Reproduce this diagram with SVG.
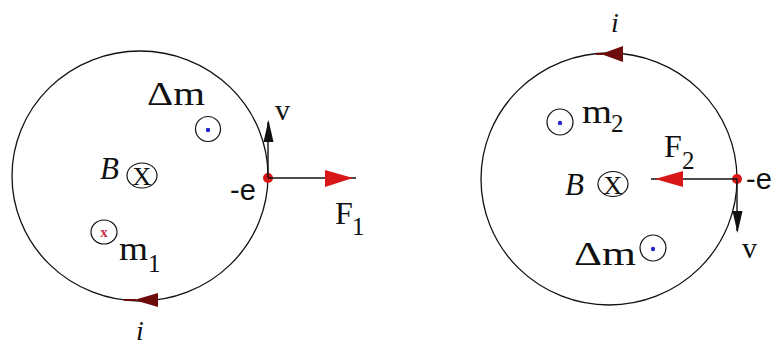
<svg xmlns="http://www.w3.org/2000/svg" width="778" height="345" viewBox="0 0 778 345">
<style>
.loop{fill:none;stroke:#111;stroke-width:1.3}
.sm{fill:none;stroke:#111;stroke-width:1.2}
.t{font-family:"Liberation Serif","Times New Roman",serif;fill:#111}
.it{font-family:"Liberation Serif","Times New Roman",serif;font-style:italic;fill:#111}
.s{font-family:"Liberation Sans",Arial,sans-serif;fill:#111}
.ln{stroke:#111;stroke-width:1.4;fill:none}
.red{fill:#d81818}
.cur{fill:#6e0c0c}
.blue{fill:#2626c8}
</style>
<rect width="778" height="345" fill="#fff"/>

<g id="left-loop">
<ellipse class="loop" cx="140" cy="176" rx="128" ry="125"/>
<polygon class="cur" points="158,293 158,307 134,300"/>
<line x1="124" y1="300" x2="136" y2="300" stroke="#6e0c0c" stroke-width="2"/>
<text class="it" x="136" y="340" font-size="28">i</text>
</g>

<g id="left-B">
<text class="it" x="100" y="179" font-size="31">B</text>
<ellipse class="sm" cx="142" cy="175.5" rx="15" ry="12.5"/>
<text class="t" x="142" y="185" font-size="26" text-anchor="middle">X</text>
</g>

<g id="left-dm">
<text class="t" x="147" y="105" font-size="34" textLength="58" lengthAdjust="spacingAndGlyphs">Δm</text>
<ellipse class="sm" cx="208" cy="129" rx="12.5" ry="12.5"/>
<circle class="blue" cx="208" cy="130" r="2.2"/>
</g>

<g id="left-m1">
<ellipse class="sm" cx="104" cy="232" rx="13" ry="12"/>
<text x="104" y="237" font-size="15" text-anchor="middle" font-family="Liberation Serif,serif" font-weight="bold" fill="#c8304a">x</text>
<text class="t" x="119" y="260" font-size="34" textLength="29" lengthAdjust="spacingAndGlyphs">m</text>
<text class="t" x="148" y="272" font-size="25">1</text>
</g>

<g id="left-electron">
<circle class="red" cx="268" cy="178" r="5"/>
<text class="s" x="230" y="200" font-size="29">-e</text>
<text class="t" x="275" y="120" font-size="30">v</text>
<text class="t" x="335" y="224" font-size="32">F</text>
<text class="t" x="352" y="235" font-size="25">1</text>
</g>

<g id="right-loop">
<ellipse class="loop" cx="609" cy="179" rx="128" ry="126"/>
<polygon class="cur" points="623,46 623,62 601,54"/>
<line x1="596" y1="54" x2="604" y2="54" stroke="#6e0c0c" stroke-width="2"/>
<text class="it" x="611" y="32" font-size="28">i</text>
</g>

<g id="right-B">
<text class="it" x="565" y="195" font-size="31">B</text>
<ellipse class="sm" cx="613" cy="184" rx="15" ry="12.5"/>
<text class="t" x="613" y="194" font-size="26" text-anchor="middle">X</text>
</g>

<g id="right-m2">
<ellipse class="sm" cx="560" cy="122" rx="13" ry="13"/>
<circle class="blue" cx="560" cy="123" r="2.2"/>
<text class="t" x="582" y="123" font-size="34" textLength="30" lengthAdjust="spacingAndGlyphs">m</text>
<text class="t" x="611" y="132" font-size="25">2</text>
</g>

<g id="right-dm">
<text class="t" x="574" y="265" font-size="34" textLength="62" lengthAdjust="spacingAndGlyphs">Δm</text>
<ellipse class="sm" cx="653" cy="248" rx="13" ry="13"/>
<circle class="blue" cx="653" cy="249" r="2.2"/>
</g>

<g id="right-electron">
<circle class="red" cx="737" cy="179" r="5"/>
<text class="s" x="746" y="189" font-size="29">-e</text>
<text class="t" x="742" y="258" font-size="30">v</text>
<text class="t" x="664" y="157" font-size="32">F</text>
<text class="t" x="682" y="169" font-size="25">2</text>
</g>

<g id="connectors">
<line class="ln" x1="268" y1="178" x2="356" y2="178"/>
<polygon class="red" points="325,170 325,187 353,178"/>
<line class="ln" x1="268" y1="178" x2="268" y2="122"/>
<polygon fill="#111" points="268.5,120 263.5,142 273.5,142"/>
<line class="ln" x1="737" y1="179" x2="651" y2="179"/>
<polygon class="red" points="683,171 683,187 655,179"/>
<line class="ln" x1="737" y1="179" x2="737" y2="231"/>
<polygon fill="#111" points="737.5,233 732.5,211 742.5,211"/>
</g>
</svg>
